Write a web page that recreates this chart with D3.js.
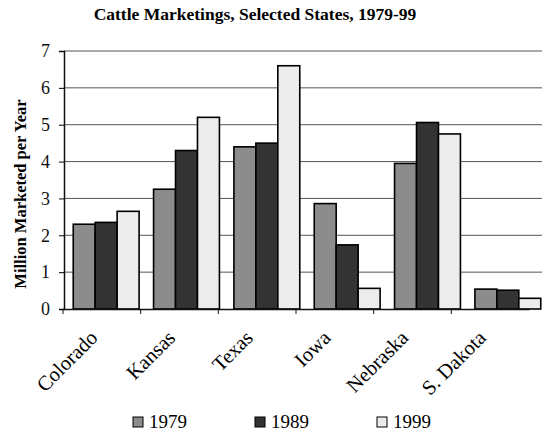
<!DOCTYPE html>
<html>
<head>
<meta charset="utf-8">
<script src="https://cdn.jsdelivr.net/npm/d3@7"></script>
<style>
  body { margin: 0; background: #fff; }
  text { font-family: "Liberation Serif", "Times New Roman", serif; }
</style>
</head>
<body>
<div id="chart"></div>
<script>
// data
const states = ["Colorado", "Kansas", "Texas", "Iowa", "Nebraska", "S. Dakota"];
const years = ["1979", "1989", "1999"];
const v1979 = [2.3, 3.25, 4.4, 2.86, 3.95, 0.54];
const v1989 = [2.35, 4.3, 4.5, 1.74, 5.06, 0.51];
const v1999 = [2.65, 5.2, 6.6, 0.56, 4.75, 0.29];
const yTicks = [0, 1, 2, 3, 4, 5, 6, 7];

const series = [v1979, v1989, v1999];
const colors = ["#8c8c8c", "#333333", "#ececec"];

const W = 542, H = 435;
const svg = d3.select("#chart").append("svg")
  .attr("width", W).attr("height", H);

// y scale
const y = d3.scaleLinear().domain([0, 7]).range([309, 51]);

// bars band scale (plot is cut off on the right in the scan)
const x = d3.scaleBand().domain(states).range([66, 548]).paddingInner(0.18).paddingOuter(0.09);
const xs = d3.scaleBand().domain(years).range([0, x.bandwidth()]);
// category axis (ticks & labels)
const xa = d3.scaleBand().domain(states).range([63, 529]);

// title
svg.append("text")
  .attr("x", 255).attr("y", 20)
  .attr("text-anchor", "middle")
  .attr("font-weight", "bold")
  .attr("font-size", 17.5)
  .text("Cattle Marketings, Selected States, 1979-99");

// gridlines
svg.append("g").selectAll("line")
  .data(yTicks.filter(d => d > 0))
  .join("line")
  .attr("x1", 64).attr("x2", W)
  .attr("y1", d => y(d)).attr("y2", d => y(d))
  .attr("stroke", "#555").attr("stroke-width", 1);

// y axis
const yAxis = svg.append("g")
  .attr("transform", "translate(64,0)")
  .call(d3.axisLeft(y).tickValues(yTicks).tickFormat(d3.format("d")).tickSize(5).tickPadding(9));
yAxis.select(".domain").attr("stroke", "#111").attr("stroke-width", 1.5);
yAxis.selectAll("text").attr("font-size", 18).attr("fill", "#111")
  .attr("font-family", "Liberation Serif, serif");

// y label
svg.append("text")
  .attr("transform", "translate(26,194) rotate(-90)")
  .attr("text-anchor", "middle")
  .attr("font-weight", "bold")
  .attr("font-size", 16.5)
  .text("Million Marketed per Year");

// bars
const groups = svg.append("g").selectAll("g")
  .data(states)
  .join("g")
  .attr("transform", d => `translate(${x(d)},0)`);

groups.selectAll("rect")
  .data((d, i) => years.map((yr, k) => ({ yr: yr, k: k, v: series[k][i] })))
  .join("rect")
  .attr("x", d => xs(d.yr))
  .attr("width", xs.bandwidth())
  .attr("y", d => y(d.v))
  .attr("height", d => y(0) - y(d.v))
  .attr("fill", d => colors[d.k])
  .attr("stroke", "#000")
  .attr("stroke-width", 1.6);

// x axis
const xAxis = svg.append("g")
  .attr("transform", `translate(0,${y(0)})`)
  .call(d3.axisBottom(xa).tickSize(0).tickFormat(""));
xAxis.select(".domain").attr("stroke", "#111").attr("stroke-width", 1.5);

// tick marks at category boundaries
svg.append("g").selectAll("line")
  .data(states)
  .join("line")
  .attr("x1", d => xa(d)).attr("x2", d => xa(d))
  .attr("y1", y(0)).attr("y2", y(0) + 5)
  .attr("stroke", "#111");

// rotated category labels
svg.append("g").selectAll("text")
  .data(states)
  .join("text")
  .attr("transform", d => `translate(${xa(d) + xa.bandwidth() / 2 - 3},${y(0) + 30}) rotate(-45)`)
  .attr("text-anchor", "end")
  .attr("font-size", 20.5)
  .text(d => d);

// legend
const legX = [133, 255, 377];
const leg = svg.append("g").selectAll("g")
  .data(years)
  .join("g")
  .attr("transform", (d, i) => `translate(${legX[i]},417)`);
leg.append("rect")
  .attr("width", 10).attr("height", 10)
  .attr("fill", (d, i) => colors[i])
  .attr("stroke", "#000").attr("stroke-width", 1);
leg.append("text")
  .attr("x", 16).attr("y", 11)
  .attr("font-size", 19)
  .text(d => d);
</script>
</body>
</html>
